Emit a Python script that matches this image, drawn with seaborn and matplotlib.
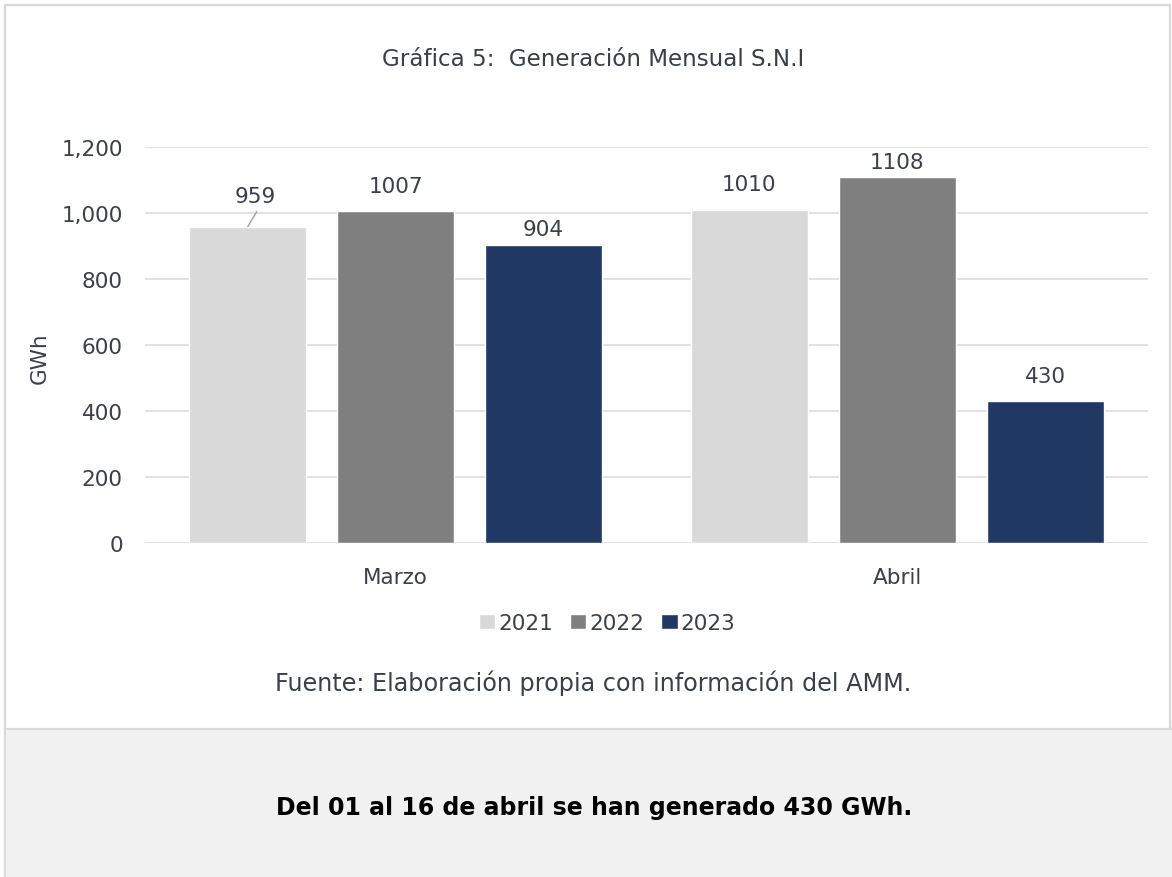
import pandas as pd
import matplotlib.pyplot as plt
import seaborn as sns
from matplotlib.patches import Rectangle
from matplotlib.lines import Line2D

# Monthly generation of the S.N.I (GWh)
months = ["Marzo", "Abril"]
years = ["2021", "2022", "2023"]
gen_2021 = [959, 1010]
gen_2022 = [1007, 1108]
gen_2023 = [904, 430]
colors = ["#d9d9d9", "#7f7f7f", "#203864"]

df = pd.DataFrame({
    "Mes": months * len(years),
    "Año": [y for y in years for _ in months],
    "GWh": gen_2021 + gen_2022 + gen_2023,
})

sns.set_style("white")
plt.rcParams["font.family"] = ["DejaVu Sans"]
text_color = "#3a3f48"
grid_color = "#d9d9d9"

fig = plt.figure(figsize=(11.72, 8.78), dpi=100)

# panel frame and grey footer box
fig.patches.append(Rectangle((0.0043, 0), 0.9940, 1 - 6 / 878, transform=fig.transFigure,
                             facecolor="none", edgecolor=grid_color, lw=1.6))
fig.patches.append(Rectangle((0.0055, 0), 0.9945, (878 - 731) / 878, transform=fig.transFigure,
                             facecolor="#f1f1f1", edgecolor="none"))
fig.lines.append(Line2D([0.0043, 1.0], [1 - 730 / 878] * 2, transform=fig.transFigure,
                        color=grid_color, lw=1.6))

ax = fig.add_axes([0.1237, 0.3804, 0.8558, 0.4510])
sns.barplot(data=df, x="Mes", y="GWh", hue="Año", palette=colors,
            width=0.885, gap=0.21, saturation=1, ax=ax)

ax.set_ylim(0, 1200)
ax.set_xlim(-0.5, 1.5)
ax.set_yticks(range(0, 1201, 200))
ax.set_yticklabels([f"{v:,}" for v in range(0, 1201, 200)])
ax.yaxis.grid(True, color=grid_color, lw=1.1)
ax.set_axisbelow(True)
for s in ax.spines.values():
    s.set_visible(False)
ax.tick_params(axis="y", length=0, pad=16, labelsize=15.5, labelcolor=text_color)
ax.tick_params(axis="x", length=0, pad=17, labelsize=15.5, labelcolor=text_color)
ax.set_xlabel("")
ax.set_ylabel("GWh", fontsize=15.5, color=text_color)
ax.yaxis.set_label_coords(-0.095, 0.47)

# value labels (offsets in pixels above each bar top)
offsets = [[31, 26], [25, 15], [16, 25]]
for container, offs in zip(ax.containers, offsets):
    for bar, off in zip(container, offs):
        x = bar.get_x() + bar.get_width() / 2
        h = bar.get_height()
        if h == 959:
            # label moved up with a short leader line
            ax.annotate("", xy=(x, h), xytext=(9, 15), textcoords="offset pixels",
                        arrowprops=dict(arrowstyle="-", color="#a6a6a6", lw=1.1,
                                        shrinkA=0, shrinkB=0))
            ax.annotate(f"{h:.0f}", xy=(x, h), xytext=(7, off), textcoords="offset pixels",
                        ha="center", va="center", fontsize=15.5, color=text_color)
        else:
            ax.annotate(f"{h:.0f}", xy=(x, h), xytext=(0, off), textcoords="offset pixels",
                        ha="center", va="center", fontsize=15.5, color=text_color)

ax.get_legend().remove()
handles = [Rectangle((0, 0), 1, 1, facecolor=c) for c in colors]
fig.legend(handles, years, loc="center", bbox_to_anchor=(0.518, 1 - 624 / 878), ncol=3,
           frameon=False, fontsize=15.5, handlelength=0.75, handleheight=0.75,
           handletextpad=0.15, columnspacing=0.8, labelcolor=text_color)

fig.text(0.506, 1 - 59 / 878, "Gráfica 5:  Generación Mensual S.N.I", ha="center", va="center",
         fontsize=16.6, color=text_color)
fig.text(0.506, 1 - 683 / 878, "Fuente: Elaboración propia con información del AMM.",
         ha="center", va="center", fontsize=17.2, color=text_color)
fig.text(0.507, 1 - 808 / 878, "Del 01 al 16 de abril se han generado 430 GWh.",
         ha="center", va="center", fontsize=17, fontweight="bold", color="black")

fig.savefig("out.png", dpi=100)
